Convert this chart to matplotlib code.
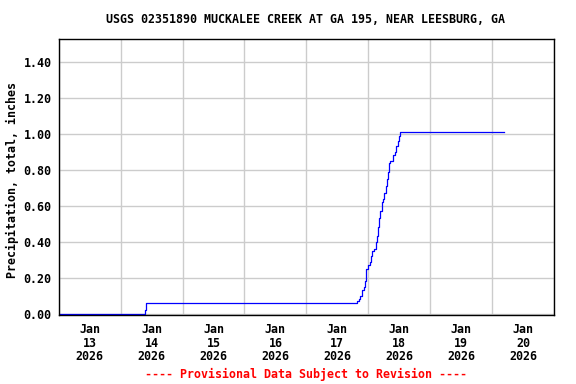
import matplotlib
matplotlib.use("Agg")
import matplotlib.pyplot as plt
import matplotlib.dates as mdates
import pandas as pd

title = "USGS 02351890 MUCKALEE CREEK AT GA 195, NEAR LEESBURG, GA"
ylabel = "Precipitation, total, inches"
footer = "---- Provisional Data Subject to Revision ----"

# cumulative precipitation readings (inches)
times = [
    "2026-01-13 00:00", "2026-01-14 09:20", "2026-01-14 09:55",
    "2026-01-17 19:20", "2026-01-17 19:35", "2026-01-17 20:30", "2026-01-17 20:55",
    "2026-01-17 21:40", "2026-01-17 22:30", "2026-01-17 22:45", "2026-01-17 23:00",
    "2026-01-17 23:15", "2026-01-18 00:05", "2026-01-18 00:45", "2026-01-18 01:10",
    "2026-01-18 01:35", "2026-01-18 02:20", "2026-01-18 03:05", "2026-01-18 03:25",
    "2026-01-18 03:45", "2026-01-18 04:10", "2026-01-18 04:40", "2026-01-18 05:10",
    "2026-01-18 05:45", "2026-01-18 06:15", "2026-01-18 06:45", "2026-01-18 07:15",
    "2026-01-18 07:45", "2026-01-18 08:10", "2026-01-18 08:35", "2026-01-18 09:35",
    "2026-01-18 10:15", "2026-01-18 10:55", "2026-01-18 11:30", "2026-01-18 11:55",
    "2026-01-18 12:20", "2026-01-20 04:30",
]
precip = [
    0.00, 0.02, 0.06,
    0.06, 0.07, 0.08, 0.10,
    0.13, 0.15, 0.18, 0.21,
    0.25, 0.27, 0.29, 0.32,
    0.35, 0.36, 0.40, 0.43,
    0.48, 0.53, 0.57, 0.62,
    0.64, 0.67, 0.71, 0.75,
    0.79, 0.84, 0.85, 0.88,
    0.90, 0.93, 0.96, 0.99,
    1.01, 1.01,
]

yticks = [0.0, 0.2, 0.4, 0.6, 0.8, 1.0, 1.2, 1.4]

font = {"family": "DejaVu Sans Mono", "weight": "bold", "size": 8.4}

ts = pd.to_datetime(times)
fig = plt.figure(figsize=(5.76, 3.84), dpi=100)
ax = fig.add_axes([0.1019, 0.1797, 0.8599, 0.718])
ax.plot(ts, precip, color="#0000ff", linewidth=0.9, drawstyle="steps-post")

ax.set_xlim(pd.Timestamp("2026-01-13"), pd.Timestamp("2026-01-21"))
ax.set_ylim(-0.007, 1.526)

ax.xaxis.set_major_locator(mdates.DayLocator())
ax.xaxis.set_major_formatter(plt.NullFormatter())
ax.xaxis.set_minor_locator(mdates.HourLocator(byhour=[12]))
ax.xaxis.set_minor_formatter(mdates.DateFormatter("Jan\n%d\n%Y"))
ax.tick_params(axis="x", which="both", length=0, pad=6)
ax.set_yticks(yticks)
ax.set_yticklabels([f"{v:.2f}" for v in yticks])
ax.tick_params(axis="y", length=0, pad=5)
for lab in ax.get_xticklabels(minor=True) + ax.get_yticklabels():
    lab.set_fontproperties(matplotlib.font_manager.FontProperties(**font))
for lab in ax.get_xticklabels(minor=True):
    lab.set_linespacing(1.05)

ax.grid(True, which="major", color="#cccccc", linewidth=1)
ax.set_axisbelow(True)
for sp in ax.spines.values():
    sp.set_linewidth(1)

fig.text(12 / 576, 0.53, ylabel, rotation=90, ha="center", va="center", fontdict=font)
fig.text(0.531, 0.948, title, ha="center", va="center", fontdict=font)
fig.text(0.531, 0.024, footer, ha="center", va="center", color="#ff0000", fontdict=font)

fig.savefig("out.png", dpi=100)
